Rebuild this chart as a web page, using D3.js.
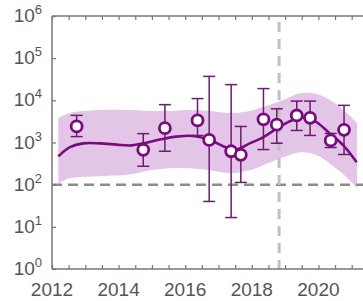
<!DOCTYPE html>
<html><head><meta charset="utf-8">
<script src="https://cdn.jsdelivr.net/npm/d3@7"></script>
<style>html,body{margin:0;padding:0;background:#fff;overflow:hidden}</style>
</head><body><svg id="c" width="363" height="301"></svg>
<script>
// ---- data ----
const pointYears = [2012.74, 2014.74, 2015.39, 2016.37, 2016.72, 2017.38, 2017.67, 2018.35, 2018.75, 2019.35, 2019.75, 2020.37, 2020.77];
const pointValues = [2400, 670, 2190, 3340, 1150, 620, 510, 3540, 2640, 4370, 3850, 1120, 2000];
const pointLower = [1380, 273, 620, 1470, 40, 16.6, 113, 680, 960, 1930, 1470, 760, 520];
const pointUpper = [4400, 1620, 7900, 11000, 37000, 23600, 2400, 19000, 6300, 9600, 9600, 1640, 7600];

const fitYears = [2012.19, 2012.54, 2012.94, 2013.44, 2013.94, 2014.34, 2014.73, 2015.24, 2015.74, 2016.24, 2016.74, 2017.24, 2017.54, 2017.94, 2018.35, 2018.75, 2019.25, 2019.65, 2019.95, 2020.35, 2020.75, 2021.15];
const fitLog = [2.67, 2.89, 2.98, 2.98, 2.95, 2.93, 2.98, 3.07, 3.14, 3.155, 3.06, 2.88, 2.84, 2.98, 3.13, 3.33, 3.54, 3.59, 3.48, 3.21, 2.93, 2.53];

const bandYears = [2012.19, 2012.54, 2013.44, 2014.34, 2014.94, 2015.54, 2016.15, 2016.74, 2017.34, 2017.94, 2018.34, 2018.94, 2019.45, 2019.96, 2020.44, 2020.95, 2021.16];
const bandUpperLog = [3.58, 3.70, 3.77, 3.77, 3.75, 3.75, 3.77, 3.75, 3.70, 3.75, 3.84, 4.01, 4.17, 4.15, 3.96, 3.63, 3.46];
const bandLowerLog = [2.03, 2.15, 2.20, 2.24, 2.34, 2.39, 2.39, 2.34, 2.27, 2.34, 2.46, 2.65, 2.77, 2.70, 2.44, 2.10, 1.91];

const xTickLabels = [2012, 2014, 2016, 2018, 2020];
const yTickExps = [0, 1, 2, 3, 4, 5, 6];
const thresholdValue = 100;
const markerYear = 2018.82;

// ---- layout ----
const svg = d3.select("#c");
const L = 52, T = 16, B = 269;
const x = d3.scaleLinear().domain([2012, 2021.5]).range([L, L + 9.5 * 33.3]);
const y = d3.scaleLog().domain([1, 1e6]).range([B, T]);
const purple = "#7a0a80";
const axisCol = "#777";
const textCol = "#555";

// band
const area = d3.area().curve(d3.curveCatmullRom)
  .x((d, i) => x(bandYears[i]))
  .y0((d, i) => y(Math.pow(10, bandLowerLog[i])))
  .y1((d, i) => y(Math.pow(10, bandUpperLog[i])));
svg.append("path").attr("d", area(bandYears)).attr("fill", "#e3c6e7");

// threshold dashed line
svg.append("line").attr("x1", L).attr("x2", 363).attr("y1", y(thresholdValue)).attr("y2", y(thresholdValue))
  .attr("stroke", "#8c8c8c").attr("stroke-width", 2.5).attr("stroke-dasharray", "10,6");

// vertical marker
svg.append("line").attr("x1", x(markerYear)).attr("x2", x(markerYear)).attr("y1", T + 6).attr("y2", B)
  .attr("stroke", "#c0c0c0").attr("stroke-width", 3).attr("stroke-dasharray", "10,7");

// fit line
const line = d3.line().curve(d3.curveCatmullRom)
  .x((d, i) => x(fitYears[i])).y((d, i) => y(Math.pow(10, fitLog[i])));
svg.append("path").attr("d", line(fitYears)).attr("fill", "none").attr("stroke", purple).attr("stroke-width", 2.6);

// error bars
const eb = svg.append("g").attr("stroke", "#6e1a70").attr("stroke-width", 1.5);
pointYears.forEach((yr, i) => {
  const cx = x(yr);
  eb.append("line").attr("x1", cx).attr("x2", cx).attr("y1", y(pointLower[i])).attr("y2", y(pointUpper[i]));
  eb.append("line").attr("x1", cx - 6).attr("x2", cx + 6).attr("y1", y(pointLower[i])).attr("y2", y(pointLower[i]));
  eb.append("line").attr("x1", cx - 6).attr("x2", cx + 6).attr("y1", y(pointUpper[i])).attr("y2", y(pointUpper[i]));
});
// markers
svg.append("g").selectAll("circle").data(pointYears).join("circle")
  .attr("cx", d => x(d)).attr("cy", (d, i) => y(pointValues[i])).attr("r", 5.5)
  .attr("fill", "#fff").attr("stroke", purple).attr("stroke-width", 2.8);

// axes
const minorTicks = d3.range(2012, 2021.51, 0.5);
const xb = d3.axisBottom(x).tickValues(minorTicks).tickSize(-4).tickFormat("");
const xt = d3.axisTop(x).tickValues(minorTicks).tickSize(-4).tickFormat("");
const yl = d3.axisLeft(y).tickValues(yTickExps.map(e => Math.pow(10, e))).tickSize(-4).tickFormat("");
function styleAxis(g) {
  g.select(".domain").attr("stroke", axisCol).attr("stroke-width", 1.5);
  g.selectAll(".tick line").attr("stroke", axisCol).attr("stroke-width", 1.2);
}
svg.append("g").attr("transform", `translate(0,${B})`).call(xb).call(styleAxis).select(".domain").attr("d", `M${L},0H400`);
svg.append("g").attr("transform", `translate(0,${T})`).call(xt).call(styleAxis).select(".domain").attr("d", `M${L},0H400`);
svg.append("g").attr("transform", `translate(${L},0)`).call(yl).call(styleAxis).select(".domain").attr("d", `M0,${B}V${T}`);

// x labels
svg.append("g").selectAll("text").data(xTickLabels).join("text")
  .attr("x", d => x(d)).attr("y", 296).attr("text-anchor", "middle")
  .attr("font-family", "Liberation Sans, Arial, sans-serif").attr("font-size", 19).attr("fill", textCol)
  .text(d => d);
// y labels
const yg = svg.append("g").attr("font-family", "Liberation Sans, Arial, sans-serif").attr("fill", textCol);
yTickExps.forEach(e => {
  const t = yg.append("text").attr("x", 42).attr("y", y(Math.pow(10, e)) + 6).attr("text-anchor", "end");
  t.append("tspan").attr("font-size", 19).text("10");
  t.append("tspan").attr("font-size", 13).attr("dy", -8).text(e);
});
</script></body></html>
